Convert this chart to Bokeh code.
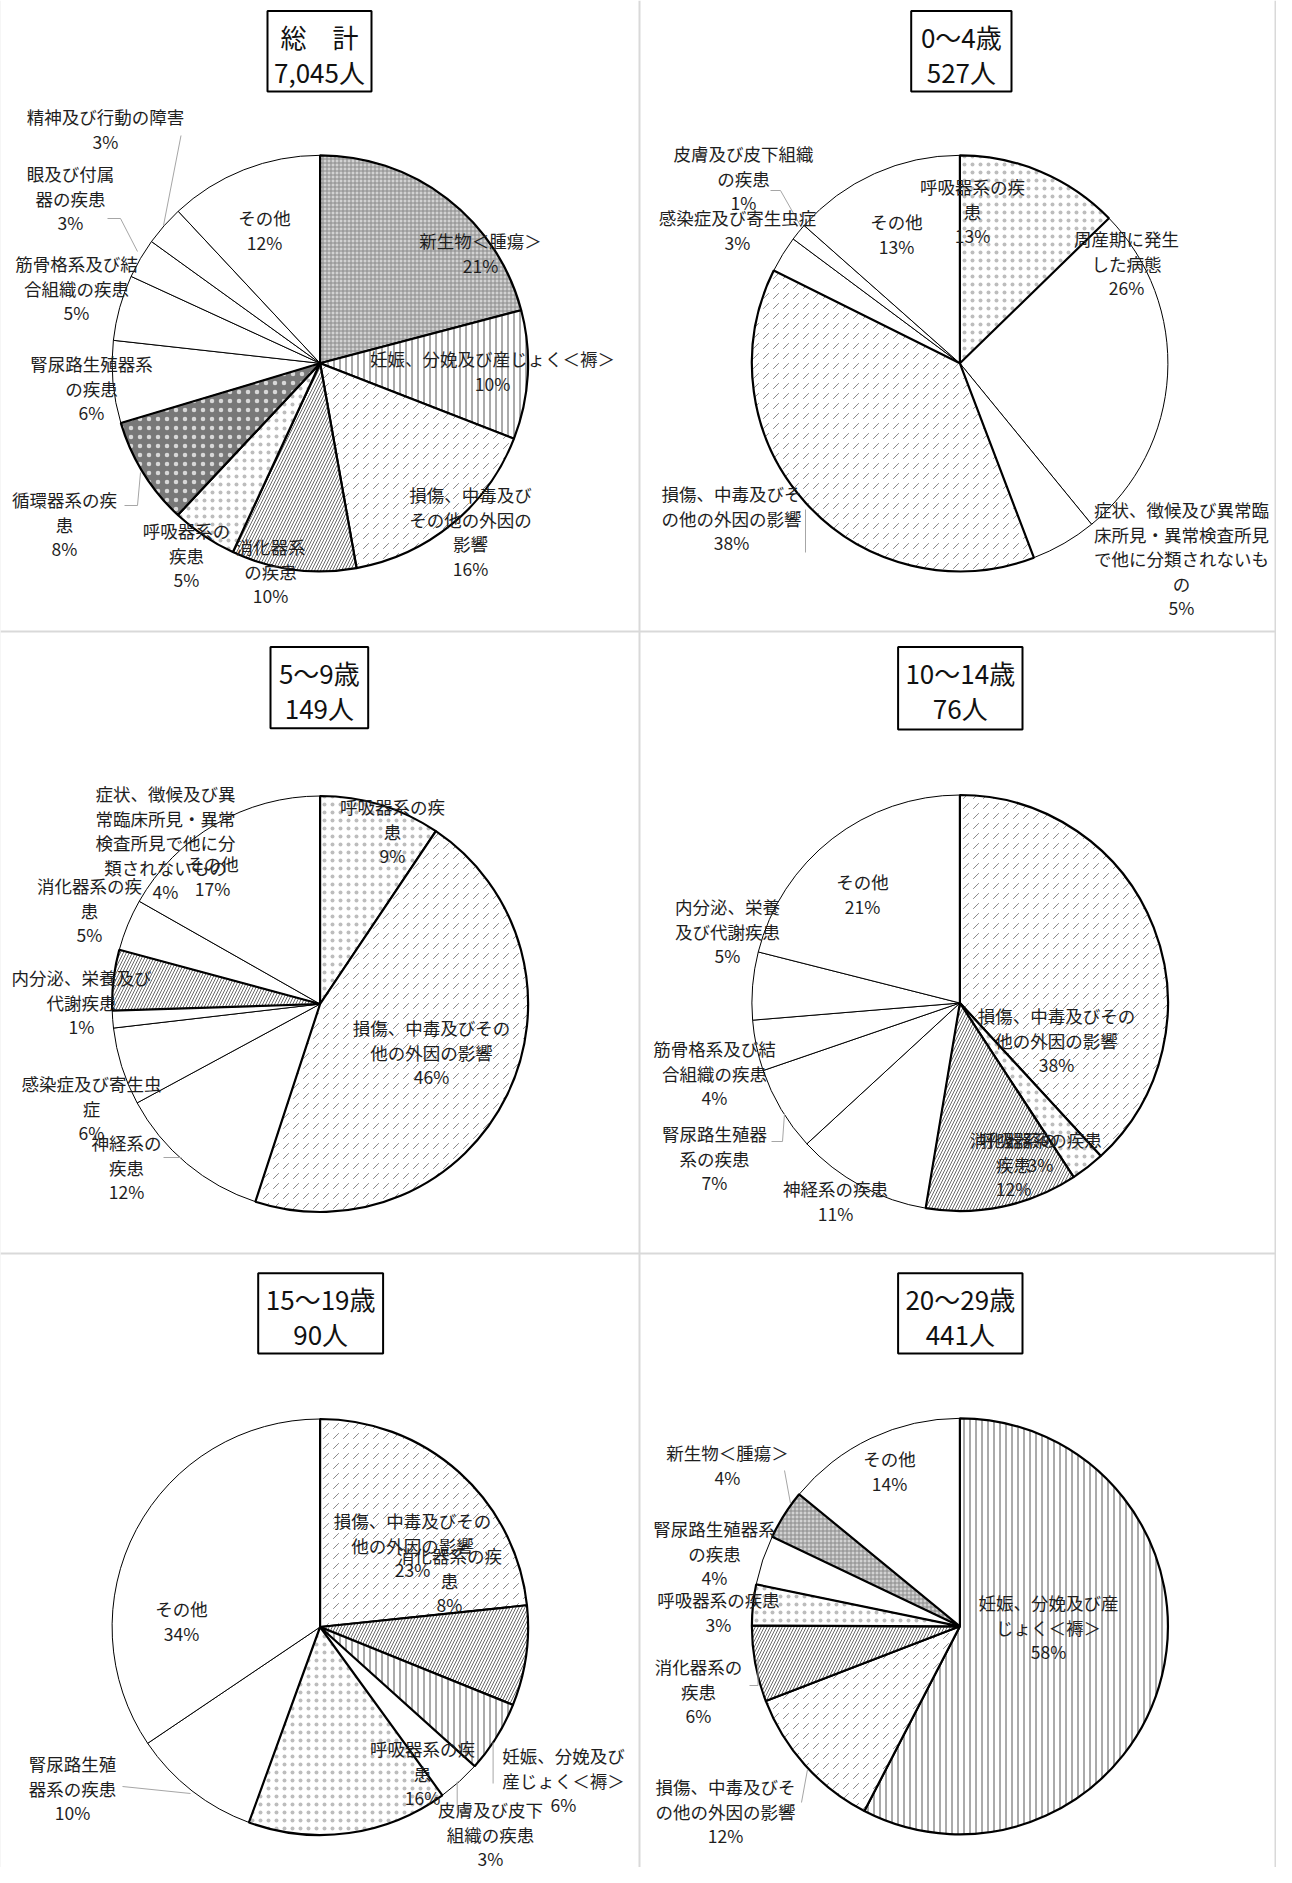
import numpy as np
from bokeh.plotting import figure
from bokeh.models import Range1d, ColumnDataSource, Span
from bokeh.core.properties import value
from bokeh.embed import file_html
from bokeh.resources import INLINE

# ---------------- data ----------------
titles = ["総　計", "0～4歳", "5～9歳", "10～14歳", "15～19歳", "20～29歳"]

names1 = ["新生物＜腫瘍＞", "妊娠、分娩及び産じょく＜褥＞", "損傷、中毒及びその他の外因の影響",
          "消化器系の疾患", "呼吸器系の疾患", "循環器系の疾患", "腎尿路生殖器系の疾患",
          "筋骨格系及び結合組織の疾患", "眼及び付属器の疾患", "精神及び行動の障害", "その他"]
counts1 = [1472, 705, 1148, 683, 359, 590, 451, 359, 218, 218, 842]

names2 = ["呼吸器系の疾患", "周産期に発生した病態",
          "症状、徴候及び異常臨床所見・異常検査所見で他に分類されないもの",
          "損傷、中毒及びその他の外因の影響", "感染症及び寄生虫症", "皮膚及び皮下組織の疾患", "その他"]
counts2 = [67, 139, 27, 201, 15, 7, 71]

names3 = ["呼吸器系の疾患", "損傷、中毒及びその他の外因の影響", "神経系の疾患", "感染症及び寄生虫症",
          "内分泌、栄養及び代謝疾患", "消化器系の疾患",
          "症状、徴候及び異常臨床所見・異常検査所見で他に分類されないもの", "その他"]
counts3 = [14, 68, 18, 9, 2, 7, 6, 25]

names4 = ["損傷、中毒及びその他の外因の影響", "呼吸器系の疾患", "消化器系の疾患", "神経系の疾患",
          "腎尿路生殖器系の疾患", "筋骨格系及び結合組織の疾患", "内分泌、栄養及び代謝疾患", "その他"]
counts4 = [29, 2, 9, 8, 5, 3, 4, 16]

names5 = ["損傷、中毒及びその他の外因の影響", "消化器系の疾患", "妊娠、分娩及び産じょく＜褥＞",
          "皮膚及び皮下組織の疾患", "呼吸器系の疾患", "腎尿路生殖器系の疾患", "その他"]
counts5 = [21, 7, 5, 3, 14, 9, 31]

names6 = ["妊娠、分娩及び産じょく＜褥＞", "損傷、中毒及びその他の外因の影響", "消化器系の疾患",
          "呼吸器系の疾患", "腎尿路生殖器系の疾患", "新生物＜腫瘍＞", "その他"]
counts6 = [254, 51, 26, 14, 17, 17, 62]

# wrapped label texts (as laid out in the original), same order as names
wrap1 = ["新生物＜腫瘍＞", "妊娠、分娩及び産じょく＜褥＞", "損傷、中毒及び\nその他の外因の\n影響", "消化器系\nの疾患",
         "呼吸器系の\n疾患", "循環器系の疾\n患", "腎尿路生殖器系\nの疾患", "筋骨格系及び結\n合組織の疾患",
         "眼及び付属\n器の疾患", "精神及び行動の障害", "その他"]
wrap2 = ["呼吸器系の疾\n患", "周産期に発生\nした病態",
         "症状、徴候及び異常臨\n床所見・異常検査所見\nで他に分類されないも\nの",
         "損傷、中毒及びそ\nの他の外因の影響", "感染症及び寄生虫症", "皮膚及び皮下組織\nの疾患", "その他"]
wrap3 = ["呼吸器系の疾\n患", "損傷、中毒及びその\n他の外因の影響", "神経系の\n疾患", "感染症及び寄生虫\n症",
         "内分泌、栄養及び\n代謝疾患", "消化器系の疾\n患",
         "症状、徴候及び異\n常臨床所見・異常\n検査所見で他に分\n類されないもの", "その他"]
wrap4 = ["損傷、中毒及びその\n他の外因の影響", "呼吸器系の疾患", "消化器系の\n疾患", "神経系の疾患",
         "腎尿路生殖器\n系の疾患", "筋骨格系及び結\n合組織の疾患", "内分泌、栄養\n及び代謝疾患", "その他"]
wrap5 = ["損傷、中毒及びその\n他の外因の影響", "消化器系の疾\n患", "妊娠、分娩及び\n産じょく＜褥＞",
         "皮膚及び皮下\n組織の疾患", "呼吸器系の疾\n患", "腎尿路生殖\n器系の疾患", "その他"]
wrap6 = ["妊娠、分娩及び産\nじょく＜褥＞", "損傷、中毒及びそ\nの他の外因の影響", "消化器系の\n疾患",
         "呼吸器系の疾患", "腎尿路生殖器系\nの疾患", "新生物＜腫瘍＞", "その他"]

# ---------------- styles ----------------
STYLE = {
    "新生物＜腫瘍＞": dict(fill="#d2d2d2", hatch="+", hc="#8a8a8a", hs=4.0, hw=1.0),
    "妊娠、分娩及び産じょく＜褥＞": dict(fill="white", hatch="|", hc="#555555", hs=6.0, hw=1.0),
    "損傷、中毒及びその他の外因の影響": dict(fill="white", hatch=",", hc="#8a8a8a", hs=10.0, hw=1.0),
    "消化器系の疾患": dict(fill="white", hatch="/", hc="#6a6a6a", hs=6.0, hw=1.0),
    "呼吸器系の疾患": dict(fill="white", hatch=".", hc="#bdbdbd", hs=8.0, hw=0.5),
    "循環器系の疾患": dict(fill="#787878", hatch=".", hc="#d8d8d8", hs=9.0, hw=0.5),
}
PLAIN = dict(fill="white", hatch=" ", hc="black", hs=6.0, hw=1.0)

# ---------------- layout (page pixels) ----------------
PAGE_H = 1883
def Y(py):
    return PAGE_H - py

LAYOUT = [
    dict(cx=327.6, cy=370.8, r=208, box=(275, 379, 18.5, 99),
         pos=[(488, 248), (500, 366), (478, 502), (278, 554), (194, 538), (72, 507), (99, 371),
              (84, 271), (78, 181), (113, 124), (272, 225)],
         leaders=[[(188.5, 143), (171, 233)], [(115, 226), (128, 226), (145, 259)],
                  [(132, 513), (145, 513), (148, 480)]]),
    dict(cx=967.4, cy=370.8, r=208, box=(918.7, 1019, 18.5, 99),
         pos=[(980, 194), (1134, 246), (1189, 517), (739, 501), (745, 225), (751, 161), (904, 229)],
         leaders=[[(778, 198), (788, 198), (809, 235)], [(813, 517), (813, 560)]]),
    dict(cx=327.6, cy=1011.5, r=208, box=(278, 375.7, 654.5, 735.7),
         pos=[(400, 814), (439, 1035), (134, 1150), (99, 1091), (89, 985), (97, 893), (173, 801),
              (220, 871)],
         leaders=[[(171, 1165), (189, 1165)]]),
    dict(cx=967.4, cy=1010.5, r=208, box=(905.6, 1030, 654.5, 737),
         pos=[(1064, 1023), (1048, 1147), (1021, 1147), (843, 1196), (722, 1141), (722, 1056),
              (735, 914), (870, 889)],
         leaders=[[(779, 1149), (790, 1149), (792, 1121)]]),
    dict(cx=327.6, cy=1634.5, r=208, box=(265.7, 390.6, 1280.7, 1361),
         pos=[(420, 1528), (457, 1563), (571, 1763), (498, 1817), (430, 1756), (80, 1771), (189, 1616)],
         leaders=[[(130, 1794), (198, 1801)], [(500.6, 1750), (500.6, 1791)], [(464.7, 1789), (464.7, 1818)]]),
    dict(cx=967.4, cy=1633.8, r=208, box=(905.6, 1030, 1280.7, 1361),
         pos=[(1056, 1610), (733, 1794), (706, 1674), (726, 1607), (722, 1536), (735, 1460), (897, 1466)],
         leaders=[[(792, 1478), (798, 1511)], [(757, 1693), (765.5, 1693), (765.5, 1666)],
                  [(809, 1810), (815, 1777)]]),
]

NAMES = [names1, names2, names3, names4, names5, names6]
COUNTS = [counts1, counts2, counts3, counts4, counts5, counts6]
WRAPS = [wrap1, wrap2, wrap3, wrap4, wrap5, wrap6]

FONT = value("Noto Sans CJK JP")
LINE = 24.5

p = figure(width=1276, height=1867, x_range=Range1d(8, 1284), y_range=Range1d(8, 1875),
           output_backend="svg", toolbar_location=None, min_border=0)
p.axis.visible = False
p.grid.visible = False
p.outline_line_color = None
p.background_fill_color = "white"
p.border_fill_color = "white"

# cell borders
for xloc in [7, 647, 1283]:
    p.add_layout(Span(location=xloc, dimension="height", line_color="#d9d9d9", line_width=2))
for ploc in [5, 639, 1261]:
    p.add_layout(Span(location=Y(ploc), dimension="width", line_color="#d9d9d9", line_width=2))

# wedges
rows = []
for names, counts, lay in zip(NAMES, COUNTS, LAYOUT):
    c = np.asarray(counts, dtype=float)
    cum = np.concatenate([[0.0], np.cumsum(c)]) / c.sum()
    starts = np.pi / 2 - 2 * np.pi * cum[:-1]
    ends = np.pi / 2 - 2 * np.pi * cum[1:]
    for n, s, e in zip(names, starts, ends):
        st = STYLE.get(n, PLAIN)
        patterned = n in STYLE
        rows.append(dict(x=lay["cx"], y=Y(lay["cy"]), r=lay["r"], s=s, e=e, fill=st["fill"],
                         hatch=st["hatch"], hc=st["hc"], hs=st["hs"], hw=st["hw"],
                         lw=2.2 if patterned else 1.0, order=1 if patterned else 0))
rows.sort(key=lambda d: d["order"])
src = ColumnDataSource({k: [d[k] for d in rows] for k in rows[0]})
p.wedge(x="x", y="y", radius="r", start_angle="s", end_angle="e", direction="clock", source=src,
        fill_color="fill", hatch_pattern="hatch", hatch_color="hc", hatch_scale="hs",
        hatch_weight="hw", line_color="black", line_width="lw")

# leader lines
lx, ly = [], []
for lay in LAYOUT:
    for seg in lay["leaders"]:
        lx.append([pt[0] for pt in seg])
        ly.append([Y(pt[1]) for pt in seg])
p.multi_line(xs=lx, ys=ly, line_color="#a6a6a6", line_width=1)

# data labels
tx, ty, tt = [], [], []
for names, counts, wraps, lay in zip(NAMES, COUNTS, WRAPS, LAYOUT):
    total = sum(counts)
    for cnt, w, (x0, y0) in zip(counts, wraps, lay["pos"]):
        lines = w.split("\n") + [f"{round(100 * cnt / total)}%"]
        for i, ln in enumerate(lines):
            tx.append(x0)
            ty.append(Y(y0 + i * LINE))
            tt.append(ln)
p.text(x=tx, y=ty, text=tt, text_font=FONT, text_font_size="17.5px", text_align="center",
       text_baseline="middle", text_color="#1e1e1e")

# title boxes
bl, br, bt, bb = [], [], [], []
ttx, tty, ttt = [], [], []
for title, counts, lay in zip(titles, COUNTS, LAYOUT):
    l, r, t, b = lay["box"]
    bl.append(l); br.append(r); bt.append(Y(t)); bb.append(Y(b))
    cx = (l + r) / 2
    ttx += [cx, cx]
    tty += [Y(t + 25), Y(t + 60)]
    ttt += [title, f"{sum(counts):,}人"]
p.quad(left=bl, right=br, top=bt, bottom=bb, fill_color="white", line_color="black", line_width=2)
p.text(x=ttx, y=tty, text=ttt, text_font=FONT, text_font_size="26px", text_align="center",
       text_baseline="middle", text_color="#111111")

open("out.html", "w").write(file_html(p, INLINE))
